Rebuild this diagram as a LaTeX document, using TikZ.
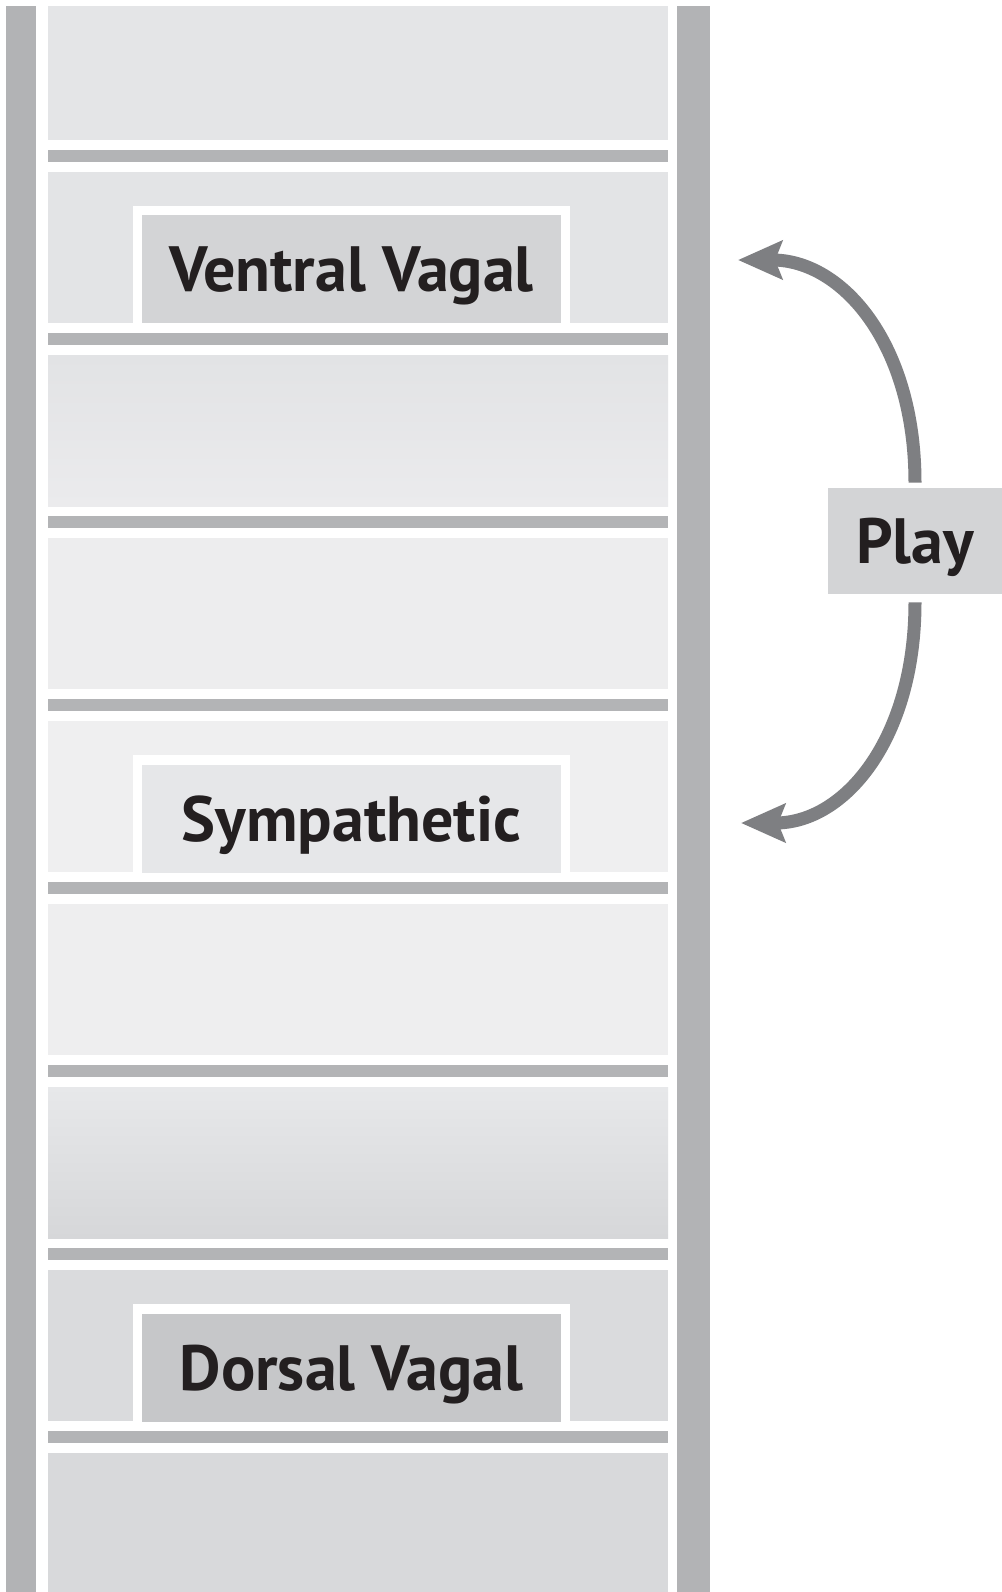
\documentclass[tikz,border=0pt]{standalone}
\usepackage{fontspec}
\setmainfont{PT Sans}
\usetikzlibrary{arrows.meta}
\definecolor{barc}{HTML}{B2B3B5}
\definecolor{divc}{HTML}{B3B4B6}
\definecolor{pa}{HTML}{E4E5E7}
\definecolor{pb}{HTML}{E3E4E6}
\definecolor{pc}{HTML}{E2E3E5}
\definecolor{pcb}{HTML}{EBEBED}
\definecolor{pd}{HTML}{EDEDEE}
\definecolor{pe}{HTML}{EFEFF0}
\definecolor{pf}{HTML}{EEEEEF}
\definecolor{pg}{HTML}{E7E8EA}
\definecolor{pgb}{HTML}{D6D7D9}
\definecolor{ph}{HTML}{DADBDD}
\definecolor{pi}{HTML}{D8D9DB}
\definecolor{inv}{HTML}{D3D4D6}
\definecolor{ins}{HTML}{E6E7E9}
\definecolor{ind}{HTML}{C6C7C9}
\definecolor{txt}{HTML}{231F20}
\definecolor{arrc}{HTML}{7E7F82}
\begin{document}
\begin{tikzpicture}[x=0.5pt,y=-0.5pt,
  lab/.style={font=\bfseries\fontsize{32}{32}\selectfont, text=txt,
    text height=22.5pt, text depth=0pt, inner sep=0pt},
  labbox/.style={lab, minimum width=209.5pt, minimum height=54pt},
  frame/.style={fill=white},
  playarrow/.style={draw=arrc, line width=6.5pt,
    -{Stealth[length=22pt,width=19pt,inset=3.5pt]}}]
\fill[white] (0,0) rectangle (1002,1592);
\useasboundingbox (0,0) rectangle (1002,1592);
% side bars
\fill[barc] (6,6) rectangle (36,1592);
\fill[barc] (677,6) rectangle (710,1592);
% panels
\fill[pa] (48,6) rectangle (668,140);
\fill[pb] (48,172) rectangle (668,323);
\shade[top color=pc, bottom color=pcb] (48,355) rectangle (668,506);
\fill[pd] (48,538) rectangle (668,689);
\fill[pe] (48,721) rectangle (668,872);
\fill[pf] (48,904) rectangle (668,1055);
\shade[top color=pg, bottom color=pgb] (48,1087) rectangle (668,1238);
\fill[ph] (48,1270) rectangle (668,1421);
\fill[pi] (48,1453) rectangle (668,1592);
% dividers
\foreach \j in {0,...,7}
  \fill[divc] (48,{150+183*\j}) rectangle (668,{162+183*\j});
% label frames
\fill[frame] (133,206) rectangle (570,323);
\fill[frame] (133,755) rectangle (570,872);
\fill[frame] (133,1304) rectangle (570,1421);
% labels
\node[labbox, fill=inv] (ventral) at (351.5,269) {Ventral Vagal};
\node[labbox, fill=ins] (symp) at (351.5,819) {Sympathetic};
\node[labbox, fill=ind] (dorsal) at (351.5,1367.5) {Dorsal Vagal};
\node[lab, fill=inv, minimum width=87pt, minimum height=53pt] (play) at (915,541) {Play};
% arrow tips
\coordinate (toptip) at (738,260);
\coordinate (bottip) at (741,823);
% arrows
\draw[playarrow, shorten <=2.5pt] (play.north)
  .. controls ([yshift=72pt]play.north) and ([xshift=52pt]toptip) .. (toptip);
\draw[playarrow, shorten <=4pt] (play.south)
  .. controls ([yshift=-72pt]play.south) and ([xshift=52pt]bottip) .. (bottip);
\end{tikzpicture}
\end{document}
